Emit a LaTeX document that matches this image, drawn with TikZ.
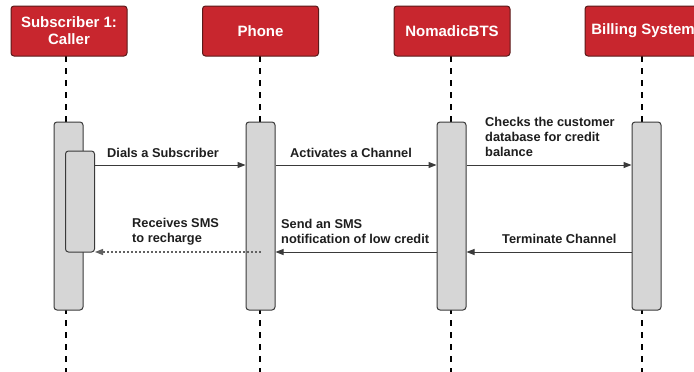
\documentclass[tikz,border=0pt]{standalone}
\usepackage{fontspec}
\setmainfont{Liberation Sans}
\usetikzlibrary{arrows.meta}
\definecolor{hdrred}{HTML}{C8262E}
\definecolor{hdredge}{HTML}{5A1A1A}
\definecolor{barfill}{HTML}{D6D6D6}
\definecolor{baredge}{HTML}{3A3A3A}
\definecolor{linecol}{HTML}{3A3A3A}
\definecolor{txt}{HTML}{1E1E1E}
\tikzset{
  header/.style={draw=hdredge, line width=1pt, fill=hdrred, rounded corners=3pt,
    minimum width=116pt, minimum height=50pt, inner sep=0pt,
    text=white, font=\bfseries\fontsize{15}{17}\selectfont, align=center},
  actbar/.style={draw=baredge, line width=1pt, fill=barfill, rounded corners=3pt,
    minimum width=29pt, inner sep=0pt},
  lifeline/.style={draw=black, line width=1.3pt, dash pattern=on 6pt off 6pt},
  msg/.style={draw=linecol, line width=1pt, -{Triangle[length=8pt,width=6pt]}},
  reply/.style={draw=linecol!80, line width=1.2pt, dash pattern=on 2pt off 2pt, -{Triangle[length=8pt,width=6pt]}},
  lbl/.style={text=txt, font=\bfseries\fontsize{12.8}{15}\selectfont, inner sep=0pt, align=left}
}
\begin{document}
\begin{tikzpicture}[x=1pt,y=-1pt]
\useasboundingbox (0,0) rectangle (694,372);
\fill[white] (0,0) rectangle (694,372);
% lifelines
\coordinate (l1t) at (66,56); \coordinate (l1b) at (66,372);
\coordinate (l2t) at (260,56); \coordinate (l2b) at (260,372);
\coordinate (l3t) at (451,56); \coordinate (l3b) at (451,372);
\coordinate (l4t) at (642,56); \coordinate (l4b) at (642,372);
\draw[lifeline] (l1t) -- (l1b);
\draw[lifeline] (l2t) -- (l2b);
\draw[lifeline] (l3t) -- (l3b);
\draw[lifeline] (l4t) -- (l4b);
% headers
\begin{scope}
\clip (0,0) rectangle (694,372);
\node[header] (h1) at (69,31) {Subscriber 1:\\Caller};
\node[header] (h2) at (260.5,31) {Phone};
\node[header] (h3) at (452,31) {NomadicBTS};
\node[header] (h4) at (643,31) {Billing System};
\end{scope}
% activation bars
\node[actbar, minimum height=188pt] (b1) at (68.5,216) {};
\node[actbar, minimum height=101pt] (b1i) at (80,201.5) {};
\node[actbar, minimum height=188pt] (b2) at (260.5,216) {};
\node[actbar, minimum height=188pt] (b3) at (451.5,216) {};
\node[actbar, minimum height=188pt] (b4) at (646.5,216) {};
% messages
\draw[msg] (b1i.east |- 0,165) -- (b2.west |- 0,165);
\draw[msg] (b2.east |- 0,165) -- (b3.west |- 0,165);
\draw[msg] (b3.east |- 0,165) -- (b4.west |- 0,165);
\draw[msg] (b4.west |- 0,252) -- (b3.east |- 0,252);
\draw[msg] (b3.west |- 0,252) -- (b2.east |- 0,252);
\draw[reply] (b2.center |- 0,252) -- (b1i.east |- 0,252);
% labels
\node[lbl, anchor=west] (t1) at (107,153) {Dials a Subscriber};
\node[lbl, anchor=west] (t2) at (290,153) {Activates a Channel};
\node[lbl, anchor=west] (t3) at (485,137) {Checks the customer\\database for credit\\balance};
\node[lbl, anchor=west] (t4) at (132,231.5) {Receives SMS\\to recharge};
\node[lbl, anchor=west] (t5) at (281,231.5) {Send an SMS\\notification of low credit};
\node[lbl, anchor=west] (t6) at (502,239) {Terminate Channel};
\end{tikzpicture}
\end{document}
